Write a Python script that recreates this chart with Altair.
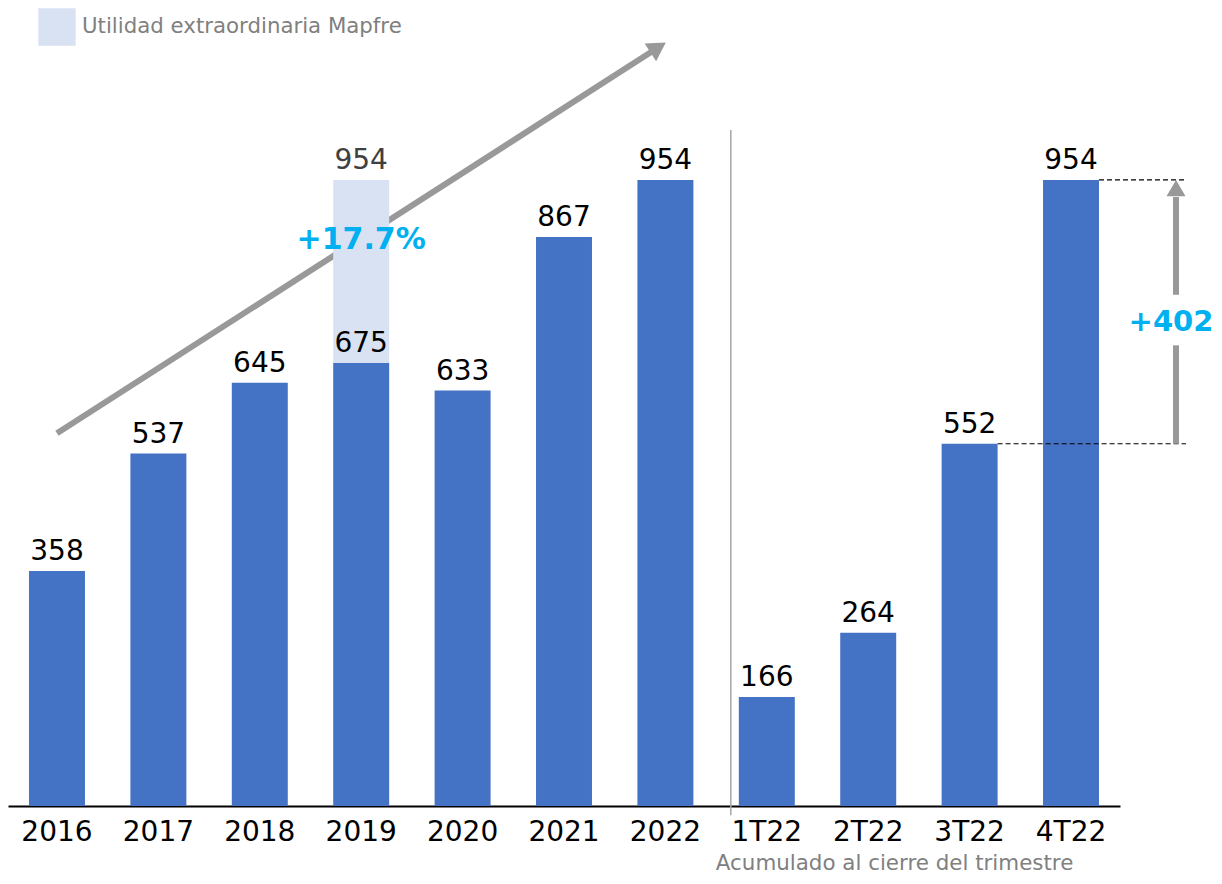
import altair as alt
import pandas as pd

# ---- data ----
categories = ["2016", "2017", "2018", "2019", "2020", "2021", "2022", "1T22", "2T22", "3T22", "4T22"]
values = [358, 537, 645, 675, 633, 867, 954, 166, 264, 552, 954]

extra_cat = ["2019"]
extra_base = [675]
extra_total = [954]
legend_label = "Utilidad extraordinaria Mapfre"

growth_label = "+17.7%"
delta_label = "+402"
delta_from = 552
delta_to = 954
footnote = "Acumulado al cierre del trimestre"

# trend arrow (category, value) endpoints
trend_start = ("2016", 568)
trend_end = ("2022", 1163)

FONT = "DejaVu Sans"
BLUE = "#4472C4"
LIGHT = "#D9E2F3"
CYAN = "#00B0F0"
ARROW = "#999999"

df = pd.DataFrame({"cat": categories, "value": values})
df_extra = pd.DataFrame({"cat": extra_cat, "base": extra_base, "total": extra_total,
                         "serie": [legend_label]})

xscale = alt.Scale(domain=categories, paddingInner=0.448, paddingOuter=0.207)
yscale = alt.Scale(domain=[0, 1216], nice=False, zero=True)

x_axis = alt.Axis(title=None, labelAngle=0, labelAlign="center", labelBaseline="top",
                  labelFontSize=28, labelFont=FONT, labelColor="#000000",
                  ticks=False, labelPadding=12, domainColor="#000000",
                  domainWidth=2, grid=False)


def xc(field="cat"):
    return alt.X(f"{field}:N", sort=categories, scale=xscale, axis=x_axis, title=None)


def yc(field):
    return alt.Y(f"{field}:Q", scale=yscale, axis=None)


base = alt.Chart(df)

# trend arrow
trend_df = pd.DataFrame({"x": [trend_start[0]], "x2": [trend_end[0]],
                         "y": [trend_start[1]], "y2": [trend_end[1]]})
trend_line = alt.Chart(trend_df).mark_rule(color=ARROW, strokeWidth=6, x2Offset=-10, y2Offset=6.5).encode(
    x=xc("x"), x2="x2:N", y=yc("y"), y2="y2:Q")
trend_head = alt.Chart(trend_df).mark_point(shape="triangle-up", filled=True, size=450, opacity=1,
                                            color=ARROW, angle=57.3, xOffset=-7.3, yOffset=4.7).encode(
    x=xc("x2"), y=yc("y2"))

extra_bar = alt.Chart(df_extra).mark_bar().encode(
    x=xc(), y=yc("base"), y2="total:Q",
    color=alt.Color("serie:N", scale=alt.Scale(domain=[legend_label], range=[LIGHT]),
                    legend=alt.Legend(orient="none", legendX=30, legendY=0, title=None,
                                      symbolType="square", symbolSize=1400, symbolStrokeWidth=0,
                                      symbolOpacity=1, labelFontSize=21.3, labelFont=FONT,
                                      labelColor="#808080", labelOffset=6, padding=0,
                                      labelLimit=800)))

bars = base.mark_bar(color=BLUE).encode(x=xc(), y=yc("value"))

labels = base.mark_text(baseline="bottom", dy=-5, fontSize=28, font=FONT, color="#000000").encode(
    x=xc(), y=yc("value"), text="value:Q")

extra_label = alt.Chart(df_extra).mark_text(baseline="bottom", dy=-5, fontSize=28, font=FONT,
                                            color="#404040").encode(
    x=xc(), y=yc("total"), text="total:Q")

growth_df = pd.DataFrame({"cat": ["2019"], "y": [862], "t": [growth_label]})
growth_text = alt.Chart(growth_df).mark_text(fontSize=30, fontWeight="bold", font=FONT, color=CYAN,
                                             baseline="middle").encode(
    x=xc(), y=yc("y"), text="t:N")

# separator between years and quarters
sep_df = pd.DataFrame({"cat": ["1T22"], "y": [1030], "y2": [-14]})
separator = alt.Chart(sep_df).mark_rule(color="#A6A6A6", strokeWidth=1.5, xOffset=-36).encode(
    x=xc(), y=yc("y"), y2="y2:Q")

# dashed guides
dash_df = pd.DataFrame({"x": ["3T22", "4T22"], "x2": ["4T22", "4T22"], "y": [delta_from, delta_to]})
dashes = alt.Chart(dash_df).mark_rule(color="#000000", strokeWidth=1.2, strokeDash=[5, 3],
                                      xOffset=28, x2Offset=115).encode(
    x=xc("x"), x2="x2:N", y=yc("y"))

# vertical delta arrow
VX = 105
varrow_df = pd.DataFrame({"cat": ["4T22", "4T22"], "y": [delta_from, 779], "y2": [702, 928]})
varrow = alt.Chart(varrow_df).mark_rule(color=ARROW, strokeWidth=6, xOffset=VX).encode(
    x=xc(), y=yc("y"), y2="y2:Q")
vhead_df = pd.DataFrame({"cat": ["4T22"], "y": [delta_to]})
vhead = alt.Chart(vhead_df).mark_point(shape="triangle-up", filled=True, size=360, opacity=1,
                                       color=ARROW, xOffset=VX, yOffset=8.2).encode(
    x=xc(), y=yc("y"))
delta_df = pd.DataFrame({"cat": ["4T22"], "y": [738], "t": [delta_label]})
delta_text = alt.Chart(delta_df).mark_text(fontSize=29, fontWeight="bold", font=FONT, color=CYAN,
                                           baseline="middle", xOffset=100).encode(
    x=xc(), y=yc("y"), text="t:N")

foot_df = pd.DataFrame({"cat": ["1T22"], "y": [-88], "t": [footnote]})
foot_text = alt.Chart(foot_df).mark_text(fontSize=21.4, font=FONT, color="#808080", align="left",
                                         baseline="middle", xOffset=-51).encode(
    x=xc(), y=yc("y"), text="t:N")

chart = alt.layer(
    trend_line, trend_head, extra_bar, bars, separator, labels, extra_label, growth_text,
    dashes, varrow, vhead, delta_text, foot_text
).properties(
    width=1112, height=798,
    autosize=alt.AutoSizeParams(type="none"),
    padding={"left": 0, "top": 0, "right": 94, "bottom": 68}
).configure_view(stroke=None).configure_axis(grid=False)

chart.save("out.html", embed_options={"renderer": "svg", "actions": False})
